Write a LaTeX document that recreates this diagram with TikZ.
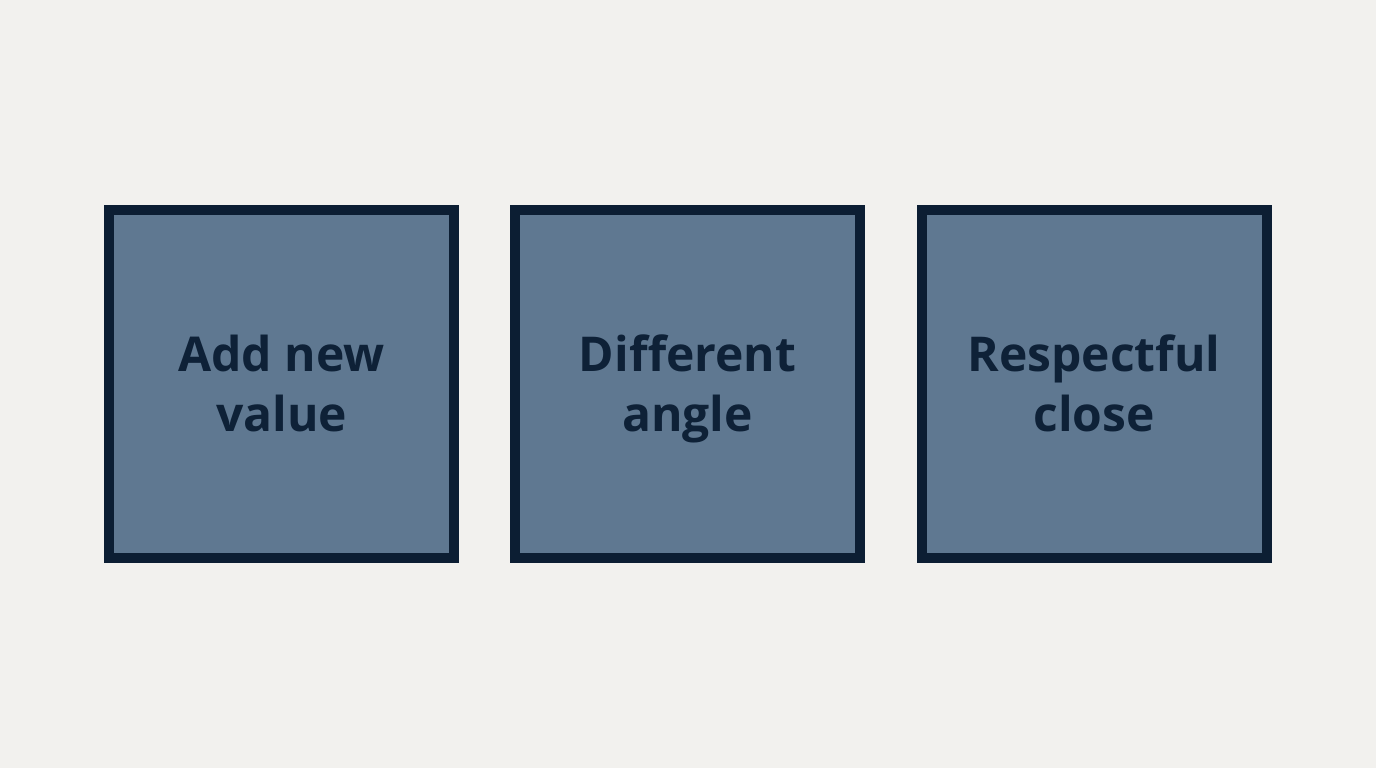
\documentclass[tikz,border=0pt]{standalone}
\usepackage{fontspec}
\setmainfont{Open Sans}
\definecolor{bg}{HTML}{F2F1EE}
\definecolor{boxfill}{HTML}{5F7891}
\definecolor{boxline}{HTML}{0C1E33}
\definecolor{txt}{HTML}{0E2137}
\newcommand{\lnstrut}{\vphantom{dg}}
\newcommand{\topstrut}{\rule{0pt}{47pt}}
\begin{document}
\begin{tikzpicture}[x=1pt,y=-1pt,
  card/.style={draw=boxline, line width=10pt, fill=boxfill, minimum width=345pt, minimum height=348pt, inner sep=0pt, text=txt, align=center, font=\fontsize{48}{60}\selectfont\bfseries}]
\fill[bg] (0,0) rectangle (1376,768);
\useasboundingbox (0,0) rectangle (1376,768);
\node[card] (a) at (281.5,384) {\topstrut Add new\lnstrut\\value\lnstrut};
\node[card] (b) at (687.5,384) {\topstrut Different\lnstrut\\angle\lnstrut};
\node[card] (c) at (1094,384) {\topstrut Respectful\lnstrut\\close\lnstrut};
\end{tikzpicture}
\end{document}
